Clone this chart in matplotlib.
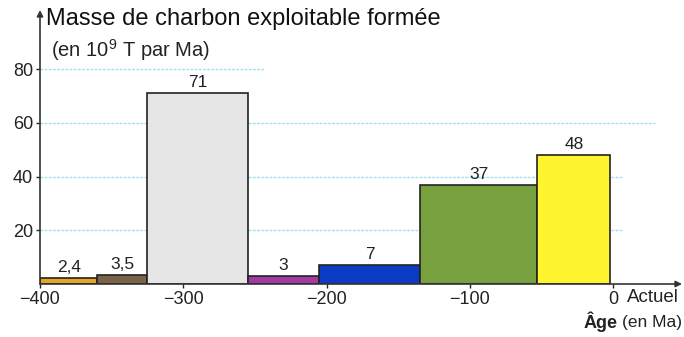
import matplotlib
matplotlib.use('Agg')
import matplotlib.pyplot as plt

plt.rcParams['font.family'] = ['Liberation Sans', 'DejaVu Sans']
plt.rcParams['mathtext.fontset'] = 'custom'
plt.rcParams['mathtext.rm'] = 'Liberation Sans'

# age limits of each period (Ma) and coal mass formed (10^9 T per Ma)
edges = [-400, -360, -325, -255, -205, -135, -53, -2]
values = [2.4, 3.5, 71, 3, 7, 37, 48]
labels = ['2,4', '3,5', '71', '3', '7', '37', '48']
colors = ['#E3A624', '#7A6349', '#E6E6E6', '#A23AA3', '#0A3BC2', '#78A03F', '#FFF52E']

x_ticks = [-400, -300, -200, -100, 0]
x_ticklabels = ['\u2212400', '\u2212300', '\u2212200', '\u2212100', '0']
y_ticks = [20, 40, 60, 80]
# grid lines (value, right end in Ma)
grid_y = [20, 40, 60, 80]
grid_end = [7, 7, 29, -244]

W, H = 684, 337
fig = plt.figure(figsize=(W / 100, H / 100), dpi=100)
ax = fig.add_axes([40 / W, 53 / H, 644 / W, 274 / H])
ax.set_xlim(-400, 49.4)
ax.set_ylim(0, 102)

for gy, ge in zip(grid_y, grid_end):
    ax.hlines(gy, -400, ge, colors='#A3DFEE', linestyles=(0, (2, 1)), lw=1, zorder=1)

lefts = edges[:-1]
widths = [b - a for a, b in zip(edges[:-1], edges[1:])]
bars = ax.bar(lefts, values, width=widths, align='edge', color=colors,
              edgecolor='#222222', linewidth=1.2, zorder=2)
for b, lab in zip(bars, labels):
    ax.annotate(lab, (b.get_x() + b.get_width() / 2, b.get_height()),
                xytext=(0, 2), textcoords='offset points',
                ha='center', va='bottom', fontsize=12.5, color='#222222')

for s in ax.spines.values():
    s.set_visible(False)

# axes drawn as arrows
ax.annotate('', xy=(48, 0), xytext=(-400, 0), annotation_clip=False,
            arrowprops=dict(arrowstyle='-|>', color='#333333', lw=1.2,
                            mutation_scale=9, shrinkA=0, shrinkB=0))
ax.annotate('', xy=(-400, 102), xytext=(-400, 0), annotation_clip=False,
            arrowprops=dict(arrowstyle='-|>', color='#333333', lw=1.2,
                            mutation_scale=9, shrinkA=0, shrinkB=0))

ax.set_xticks(x_ticks)
ax.set_xticklabels(x_ticklabels)
ax.set_yticks(y_ticks)
ax.tick_params(axis='both', labelsize=13, length=3, width=1, colors='#222222', pad=2)

fig.text(627 / W, 1 - 297 / H, 'Actuel', fontsize=13.5, ha='left', va='center', color='#222222')
fig.text(46 / W, 1 - 19 / H, 'Masse de charbon exploitable formée', fontsize=17,
         ha='left', va='center', color='#111111')
fig.text(51 / W, 1 - 50 / H, '(en 10$^9$ T par Ma)', fontsize=14.5,
         ha='left', va='center', color='#222222')
fig.text(682 / W, 1 - 322 / H, '(en Ma)', fontsize=12.5, ha='right', va='center', color='#222222')
fig.text(618 / W, 1 - 322 / H, 'Âge', fontsize=13, fontweight='bold', ha='right', va='center',
         color='#222222')

fig.savefig('out.png', dpi=100)
